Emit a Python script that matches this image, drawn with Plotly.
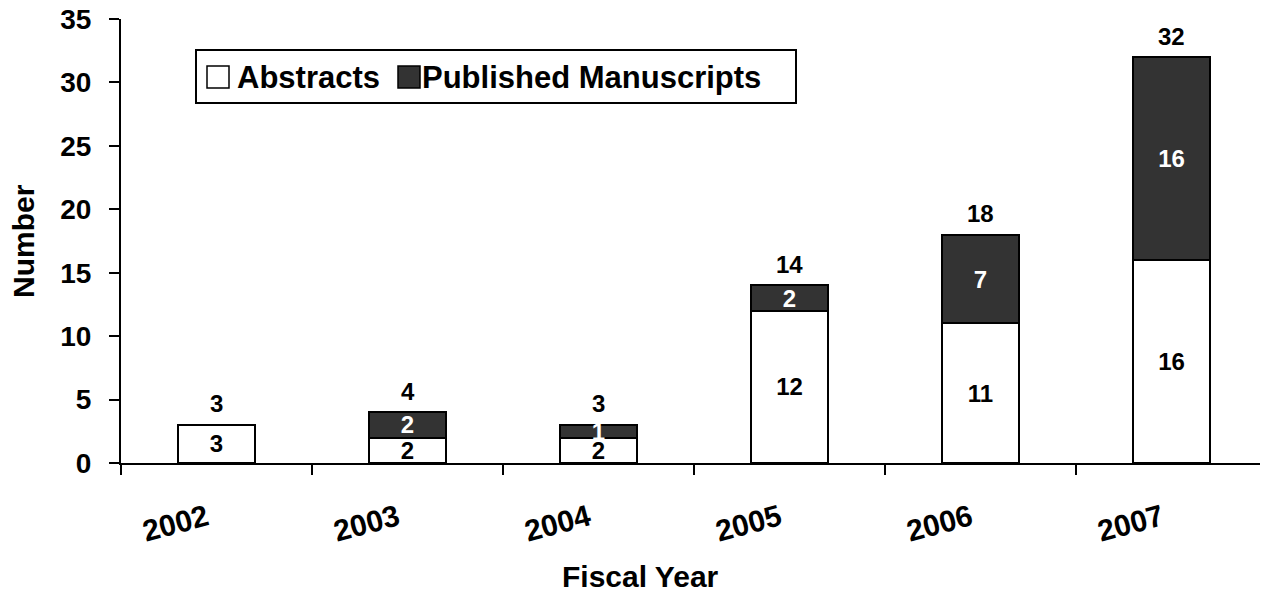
import plotly.graph_objects as go

years = ["2002", "2003", "2004", "2005", "2006", "2007"]
abstracts = [3, 2, 2, 12, 11, 16]
manuscripts = [0, 2, 1, 2, 7, 16]
totals = [a + m for a, m in zip(abstracts, manuscripts)]
y_ticks = [0, 5, 10, 15, 20, 25, 30, 35]
series_names = ["Abstracts", "Published Manuscripts"]

FONT = "Liberation Sans, Arial, sans-serif"
DARK = "#333333"

# page body has an 8px margin; figure is offset accordingly
OFF = 8
L, T, B, R = 121, 19, 129, 1
W, H = 1268, 592
plot_w = W - L - R
plot_h = H - T - B


def px(xp):
    return (xp - L) / plot_w


def py(yp):
    return (H - B - yp) / plot_h


fig = go.Figure()
fig.add_trace(go.Bar(
    x=years, y=abstracts, name=series_names[0], showlegend=False,
    marker=dict(color="white", line=dict(color="black", width=2)),
    text=[str(v) for v in abstracts], textposition="inside",
    insidetextanchor="middle", constraintext="none", textangle=0,
    textfont=dict(family=FONT, size=24, color="black", weight="bold"),
))
fig.add_trace(go.Bar(
    x=years, y=manuscripts, name=series_names[1], showlegend=False,
    marker=dict(color=DARK, line=dict(color="black", width=2)),
    text=[str(v) if v else "" for v in manuscripts], textposition="inside",
    insidetextanchor="middle", constraintext="none", textangle=0,
    textfont=dict(family=FONT, size=24, color="white", weight="bold"),
))

annotations = []
for i, tot in enumerate(totals):
    annotations.append(dict(
        x=i, y=tot, xref="x", yref="y", text=str(tot), showarrow=False,
        xanchor="center", yanchor="middle", yshift=21,
        font=dict(family=FONT, size=24, color="black", weight="bold"),
    ))

annotations += [
    dict(text="Number", x=px(23), y=0.5, xref="paper", yref="paper",
         showarrow=False, textangle=-90, xanchor="center", yanchor="middle",
         font=dict(family=FONT, size=30, color="black", weight="bold")),
    dict(text="Fiscal Year", x=px(640), y=py(576), xref="paper", yref="paper",
         showarrow=False, xanchor="center", yanchor="middle",
         font=dict(family=FONT, size=30, color="black", weight="bold")),
    # legend texts
    dict(text=series_names[0], x=px(235), y=py(77), xref="paper", yref="paper",
         showarrow=False, xanchor="left", yanchor="middle",
         font=dict(family=FONT, size=31, color="black", weight="bold")),
    dict(text=series_names[1], x=px(420), y=py(77), xref="paper", yref="paper",
         showarrow=False, xanchor="left", yanchor="middle",
         font=dict(family=FONT, size=31, color="black", weight="bold")),
]

shapes = [
    dict(type="rect", xref="paper", yref="paper", x0=px(196), x1=px(796),
         y0=py(103), y1=py(50), line=dict(color="black", width=2),
         fillcolor="white", layer="above"),
    dict(type="rect", xref="paper", yref="paper", x0=px(207), x1=px(229),
         y0=py(88), y1=py(66), line=dict(color="black", width=1.5),
         fillcolor="white", layer="above"),
    dict(type="rect", xref="paper", yref="paper", x0=px(398), x1=px(420),
         y0=py(88), y1=py(66), line=dict(color="black", width=1.5),
         fillcolor=DARK, layer="above"),
]

fig.update_layout(
    barmode="stack", bargap=0.6,
    width=W - OFF, height=H - OFF,
    margin=dict(l=L - OFF, r=R, t=T - OFF, b=B, autoexpand=False),
    plot_bgcolor="white", paper_bgcolor="white",
    font=dict(family=FONT, color="black"),
    showlegend=False,
    xaxis=dict(
        type="category", showline=True, linecolor="black", linewidth=2,
        ticks="outside", tickson="boundaries", ticklen=10, tickwidth=2,
        tickcolor="black", tickangle=-15, showgrid=False, automargin=False,
        range=[-0.5, 5.5],
        tickfont=dict(family=FONT, size=30, color="black", weight="bold"),
        ticklabelstandoff=24, ticklabelshift=-10, ticklabeloverflow="allow",
    ),
    yaxis=dict(
        range=[0, 35], tickvals=y_ticks, showline=True, linecolor="black",
        linewidth=2, ticks="outside", ticklen=10, tickwidth=2,
        tickcolor="black", showgrid=False, zeroline=False, automargin=False,
        tickfont=dict(family=FONT, size=28, color="black", weight="bold"),
        ticklabelstandoff=12, ticklabeloverflow="allow",
    ),
    annotations=annotations,
    shapes=shapes,
)

fig.write_html("out.html")
